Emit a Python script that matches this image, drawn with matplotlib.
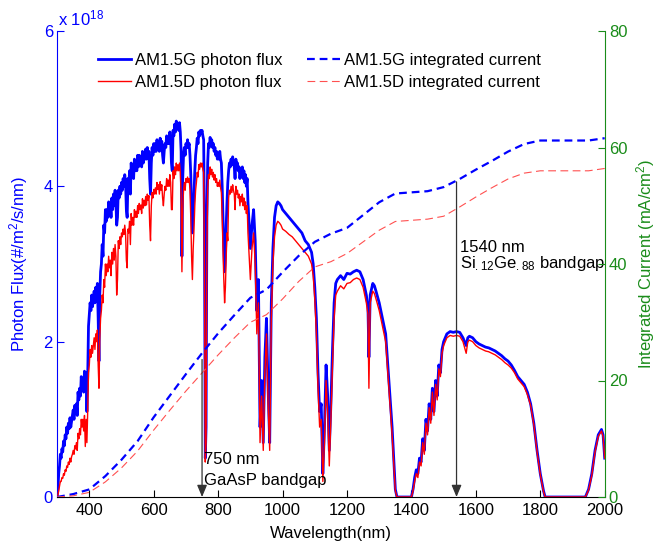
import numpy as np
import matplotlib
matplotlib.use("Agg")
import matplotlib.pyplot as plt

plt.rcParams['font.family'] = ['Liberation Sans', 'DejaVu Sans']
plt.rcParams['font.size'] = 12
plt.rcParams['mathtext.fontset'] = 'custom'
plt.rcParams['mathtext.rm'] = 'Liberation Sans'
plt.rcParams['mathtext.it'] = 'Liberation Sans'

# ---- photon flux (x 1e18 #/m^2/s/nm) ----
# 300-900 nm on a 2.5 nm grid
wl_a = list(np.arange(300, 400.1, 2.5))
g_a = [0.0, 0.1, 0.3, 0.4, 0.55, 0.5, 0.62, 0.58, 0.72, 0.66,
       0.8, 0.75, 0.9, 0.82, 0.95, 0.88, 1.02, 0.9, 0.98, 1.05,
       1.12, 1.0, 1.18, 1.1, 1.2, 1.05, 1.35, 1.25, 1.4, 1.3,
       1.55, 1.4, 1.5, 1.35, 1.62, 1.5, 1.6, 1.1, 1.55, 2.2,
       2.35]
d_a = [0.0, 0.02, 0.08, 0.14, 0.2, 0.2, 0.25, 0.24, 0.3, 0.28,
       0.35, 0.33, 0.4, 0.38, 0.45, 0.42, 0.5, 0.45, 0.52, 0.55,
       0.6, 0.55, 0.66, 0.62, 0.7, 0.6, 0.82, 0.75, 0.88, 0.8,
       1.0, 0.9, 1.0, 0.85, 1.05, 0.65, 1.0, 0.7, 1.1, 1.6,
       1.7]

wl_b = list(np.arange(402.5, 500.1, 2.5))
g_b = [2.5, 2.4, 2.6, 2.45, 2.55, 2.65, 2.5, 2.7, 2.6, 2.75,
       2.3, 1.75, 2.6, 2.9, 3.0, 3.25, 3.1, 3.5, 3.4, 3.7,
       3.55, 3.7, 3.6, 3.8, 3.65, 3.75, 3.6, 3.85, 3.7, 3.9,
       3.75, 3.95, 3.8, 3.5, 3.6, 3.95, 3.85, 4.0, 3.9, 4.05]
d_b = [1.9, 1.8, 1.95, 1.85, 1.95, 2.05, 1.9, 2.1, 2.0, 2.15,
       1.7, 1.4, 2.05, 2.3, 2.4, 2.6, 2.5, 2.8, 2.7, 3.0,
       2.85, 3.0, 2.9, 3.1, 2.95, 3.05, 2.85, 3.15, 3.0, 3.2,
       3.05, 3.25, 3.1, 2.6, 2.8, 3.3, 3.2, 3.35, 3.25, 3.4]

wl_c = list(np.arange(502.5, 600.1, 2.5))
g_c = [3.95, 4.1, 4.0, 4.15, 4.05, 3.7, 3.6, 4.1, 4.0, 4.2,
       3.9, 4.3, 4.15, 4.25, 4.1, 4.35, 4.2, 4.3, 4.2, 4.4,
       4.25, 4.4, 4.3, 4.38, 4.25, 4.45, 4.3, 4.42, 4.35, 4.48,
       4.35, 4.5, 4.4, 4.45, 4.1, 3.9, 4.3, 4.5, 4.4, 4.55]
d_c = [3.35, 3.45, 3.38, 3.5, 3.4, 3.05, 2.95, 3.45, 3.4, 3.55,
       3.25, 3.65, 3.5, 3.6, 3.5, 3.7, 3.6, 3.68, 3.6, 3.75,
       3.65, 3.78, 3.7, 3.76, 3.65, 3.84, 3.72, 3.82, 3.75, 3.87,
       3.76, 3.9, 3.82, 3.88, 3.5, 3.3, 3.75, 3.92, 3.85, 3.96]

wl_d = list(np.arange(602.5, 700.1, 2.5))
g_d = [4.45, 4.55, 4.45, 4.6, 4.5, 4.58, 4.45, 4.62, 4.5, 4.58,
       4.4, 4.3, 4.45, 4.55, 4.5, 4.65, 4.55, 4.62, 4.55, 4.7,
       4.6, 4.3, 4.2, 4.72, 4.65, 4.8, 4.7, 4.84, 4.75, 4.8,
       4.72, 4.82, 4.7, 4.45, 3.1, 4.1, 4.4, 4.5, 4.4, 4.55]
d_d = [3.9, 3.98, 3.9, 4.05, 3.96, 4.02, 3.9, 4.06, 3.95, 4.02,
       3.85, 3.75, 3.9, 4.0, 3.95, 4.1, 4.0, 4.08, 4.0, 4.15,
       4.05, 3.7, 3.7, 4.2, 4.1, 4.25, 4.15, 4.3, 4.2, 4.28,
       4.2, 4.3, 4.18, 3.9, 2.9, 3.7, 3.95, 4.05, 3.95, 4.1]

wl_e = list(np.arange(702.5, 800.1, 2.5))
g_e = [4.5, 4.6, 4.5, 4.55, 4.4, 4.15, 3.7, 3.4, 3.7, 3.9,
       4.2, 4.4, 4.5, 4.62, 4.55, 4.7, 4.65, 4.72, 4.68, 4.72,
       4.65, 4.6, 3.5, 0.5, 0.9, 3.6, 4.3, 4.55, 4.5, 4.63,
       4.55, 4.6, 4.5, 4.55, 4.45, 4.5, 4.4, 4.45, 4.35, 4.4]
d_e = [4.05, 4.12, 4.05, 4.1, 3.95, 3.6, 3.1, 2.8, 3.2, 3.45,
       3.75, 3.95, 4.05, 4.18, 4.12, 4.28, 4.22, 4.3, 4.25, 4.3,
       4.22, 4.18, 3.0, 0.45, 0.7, 3.2, 3.95, 4.15, 4.1, 4.25,
       4.15, 4.22, 4.12, 4.18, 4.08, 4.15, 4.05, 4.1, 4.0, 4.05]

wl_f = list(np.arange(802.5, 900.1, 2.5))
g_f = [4.35, 4.45, 4.35, 4.3, 4.0, 3.6, 3.2, 2.9, 3.1, 3.5,
       3.8, 4.05, 4.2, 4.3, 4.25, 4.35, 4.28, 4.38, 4.3, 4.25,
       4.1, 4.35, 4.25, 4.3, 4.2, 4.25, 4.1, 4.2, 4.15, 4.25,
       4.1, 4.2, 4.05, 4.15, 4.0, 4.1, 3.8, 3.6, 3.4, 3.2]
d_f = [4.0, 4.08, 3.98, 3.92, 3.6, 3.2, 2.8, 2.5, 2.7, 3.1,
       3.4, 3.3, 3.85, 3.95, 3.9, 4.0, 3.92, 4.02, 3.95, 3.9,
       3.7, 4.0, 3.9, 3.95, 3.85, 3.9, 3.75, 3.87, 3.8, 3.9,
       3.75, 3.85, 3.7, 3.8, 3.65, 3.75, 3.4, 3.2, 3.0, 2.8]

# 900-2000 nm
wl_7 = [905, 910, 915, 920, 925, 930, 935, 940, 945, 950, 955, 960, 965, 970, 975, 980, 985, 990, 995, 1000]
g_7 = [3.5, 3.7, 3.3, 2.4, 2.8, 0.9, 1.5, 0.7, 1.8, 2.3, 1.4, 0.7, 2.5, 3.2, 3.6, 3.75, 3.8, 3.78, 3.75, 3.7]
d_7 = [3.2, 3.4, 3.0, 2.1, 2.5, 0.7, 1.3, 0.6, 1.6, 2.1, 1.2, 0.6, 2.3, 3.0, 3.35, 3.5, 3.55, 3.53, 3.5, 3.45]

wl_8 = [1010, 1020, 1030, 1040, 1050, 1060, 1070, 1080, 1090, 1095, 1100]
g_8 = [3.65, 3.6, 3.55, 3.5, 3.45, 3.4, 3.3, 3.25, 3.15, 3.0, 2.7]
d_8 = [3.42, 3.38, 3.35, 3.3, 3.25, 3.2, 3.15, 3.1, 3.0, 2.85, 2.55]

wl_9 = [1105, 1110, 1115, 1120, 1125, 1130, 1135, 1140, 1145, 1150, 1155, 1160, 1165, 1170, 1180, 1190, 1200]
g_9 = [2.3, 1.6, 1.1, 1.2, 0.3, 0.9, 1.7, 1.3, 0.6, 1.2, 1.9, 2.5, 2.75, 2.8, 2.85, 2.8, 2.88]
d_9 = [2.1, 1.4, 0.9, 1.0, 0.2, 0.7, 1.5, 1.1, 0.4, 1.0, 1.7, 2.3, 2.6, 2.65, 2.72, 2.68, 2.75]

wl_10 = [1210, 1220, 1230, 1240, 1250, 1255, 1260, 1265, 1268, 1272, 1280, 1285, 1290, 1300]
g_10 = [2.87, 2.9, 2.92, 2.9, 2.8, 2.7, 2.6, 2.45, 1.8, 2.6, 2.75, 2.72, 2.65, 2.5]
d_10 = [2.76, 2.8, 2.82, 2.8, 2.7, 2.6, 2.5, 2.35, 1.4, 2.5, 2.65, 2.62, 2.55, 2.4]

wl_11 = [1310, 1320, 1325, 1330, 1335, 1340, 1345, 1350, 1355, 1400]
g_11 = [2.3, 2.1, 1.8, 1.5, 1.2, 0.9, 0.5, 0.1, 0.0, 0.0]
d_11 = [2.2, 2.0, 1.7, 1.4, 1.1, 0.8, 0.45, 0.08, 0.0, 0.0]

wl_12 = [1405, 1410, 1415, 1420, 1425, 1430, 1435, 1440, 1445, 1450, 1455, 1460, 1465, 1470, 1475, 1480, 1485, 1490, 1495, 1500]
g_12 = [0.1, 0.25, 0.35, 0.3, 0.5, 0.45, 0.75, 0.6, 1.0, 0.85, 1.2, 1.0, 1.4, 1.1, 1.5, 1.3, 1.7, 1.6, 1.9, 2.0]
d_12 = [0.08, 0.2, 0.3, 0.25, 0.45, 0.4, 0.7, 0.55, 0.95, 0.8, 1.15, 0.95, 1.35, 1.05, 1.45, 1.25, 1.65, 1.55, 1.85, 1.95]

wl_13 = [1510, 1520, 1530, 1540, 1550, 1560, 1570, 1575, 1580, 1590, 1600, 1610, 1620, 1630, 1640, 1650, 1660, 1670, 1680, 1690, 1700]
g_13 = [2.1, 2.13, 2.12, 2.13, 2.12, 2.05, 1.95, 2.05, 2.07, 2.05, 2.0, 1.97, 1.95, 1.93, 1.92, 1.9, 1.88, 1.85, 1.82, 1.78, 1.75]
d_13 = [2.05, 2.08, 2.07, 2.08, 2.07, 2.0, 1.85, 2.0, 2.02, 2.0, 1.95, 1.92, 1.9, 1.88, 1.87, 1.85, 1.83, 1.8, 1.77, 1.73, 1.7]

wl_14 = [1710, 1720, 1730, 1740, 1750, 1760, 1770, 1780, 1790, 1800, 1810, 1815, 1940, 1950, 1960, 1970, 1980, 1990, 1995, 2000]
g_14 = [1.7, 1.63, 1.55, 1.5, 1.45, 1.35, 1.2, 0.95, 0.6, 0.3, 0.08, 0.0, 0.0, 0.1, 0.3, 0.6, 0.8, 0.87, 0.8, 0.5]
d_14 = [1.66, 1.6, 1.52, 1.47, 1.42, 1.32, 1.18, 0.93, 0.58, 0.29, 0.07, 0.0, 0.0, 0.09, 0.28, 0.58, 0.78, 0.85, 0.78, 0.5]

# ---- integrated current (mA/cm^2) ----
wl_int = [300, 350, 400, 450, 500, 550, 600, 650, 700, 750, 800, 850, 900, 950, 1000, 1050, 1100, 1150,
          1200, 1250, 1300, 1350, 1400, 1450, 1500, 1550, 1600, 1650, 1700, 1750, 1800, 1850, 1900, 1950, 2000]
j_g = [0.0, 0.5, 1.3, 3.6, 6.4, 9.6, 13.7, 17.4, 21.1, 24.7, 28.1, 31.2, 34.2, 35.6, 38.6, 41.4, 43.8, 45.2,
       46.2, 48.4, 50.6, 52.1, 52.3, 52.5, 53.2, 54.6, 56.2, 57.7, 59.3, 60.6, 61.2, 61.2, 61.2, 61.2, 61.6]
j_d = [0.0, 0.2, 0.8, 2.6, 5.0, 7.9, 11.5, 14.9, 18.2, 21.3, 24.4, 27.3, 30.0, 31.3, 34.0, 37.0, 39.5, 40.4,
       41.8, 43.8, 45.8, 47.3, 47.5, 47.7, 48.2, 49.8, 51.5, 53.1, 54.6, 55.6, 56.0, 56.0, 56.0, 56.0, 56.4]

wl = wl_a + wl_b + wl_c + wl_d + wl_e + wl_f + wl_7 + wl_8 + wl_9 + wl_10 + wl_11 + wl_12 + wl_13 + wl_14
flux_g = g_a + g_b + g_c + g_d + g_e + g_f + g_7 + g_8 + g_9 + g_10 + g_11 + g_12 + g_13 + g_14
flux_d = d_a + d_b + d_c + d_d + d_e + d_f + d_7 + d_8 + d_9 + d_10 + d_11 + d_12 + d_13 + d_14

labels = ['AM1.5G photon flux', 'AM1.5D photon flux',
          'AM1.5G integrated current', 'AM1.5D integrated current']

BLUE = '#0000ff'
RED = '#ff0000'
GREEN = '#1a8c1a'

fig = plt.figure(figsize=(6.57, 5.43), dpi=100)
ax = fig.add_axes([57.1 / 657, 1 - 497 / 543, (604.7 - 57.1) / 657, (497 - 31) / 543])
ax2 = ax.twinx()

h1, = ax.plot(wl, flux_g, color=BLUE, lw=2.0, zorder=2)
h2, = ax.plot(wl, flux_d, color=RED, lw=1.0, zorder=3)
h3, = ax2.plot(wl_int, j_g, color=BLUE, lw=1.6, dashes=(3.5, 2.2))
h4, = ax2.plot(wl_int, j_d, color='#ff5050', lw=0.8, dashes=(7, 4))

ax.set_xlim(300, 2000)
ax.set_ylim(0, 6)
ax2.set_ylim(0, 80)
ax.set_xticks(range(400, 2001, 200))
ax.set_yticks([0, 2, 4, 6])
ax2.set_yticks([0, 20, 40, 60, 80])

for s in ['top', 'right']:
    ax.spines[s].set_visible(False)
for s in ['top', 'left', 'bottom']:
    ax2.spines[s].set_visible(False)
ax.spines['left'].set_color(BLUE)
ax.spines['bottom'].set_color('black')
ax2.spines['right'].set_color(GREEN)

ax.tick_params(axis='x', direction='in', length=5, colors='black', labelsize=12, top=False, pad=4)
ax.tick_params(axis='y', direction='in', length=5, colors=BLUE, labelsize=12, right=False, pad=3)
ax2.tick_params(axis='y', direction='in', length=5, colors=GREEN, labelsize=12, pad=3)

ax.set_xlabel('Wavelength(nm)', fontsize=12, labelpad=6)
ax.set_ylabel('Photon Flux(#/m$^2$/s/nm)', color=BLUE, fontsize=12, labelpad=10)
ax2.set_ylabel('Integrated Current (mA/cm$^2$)', color=GREEN, fontsize=12, labelpad=5)

fig.text(58 / 657, 1 - 25 / 543, 'x 10$^{18}$', color=BLUE, fontsize=12, ha='left', va='baseline')

# annotations
arrow = dict(arrowstyle='-|>,head_length=0.6,head_width=0.25', color='#333333', lw=0.9,
             shrinkA=0, shrinkB=0)
ax2.annotate('', xy=(750, 0), xytext=(750, 23.6), arrowprops=arrow)
ax.text(757, 0.43, '750 nm', fontsize=12, ha='left', va='baseline')
ax.text(757, 0.16, 'GaAsP bandgap', fontsize=12, ha='left', va='baseline')

ax2.annotate('', xy=(1540, 0), xytext=(1540, 54.1), arrowprops=arrow)
ax.text(1550, 3.16, '1540 nm', fontsize=12, ha='left', va='baseline')
ax.text(1550, 2.95, 'Si$_{.12}$Ge$_{.88}$ bandgap', fontsize=12, ha='left', va='baseline')

leg = ax2.legend([h1, h2, h3, h4], labels, ncol=2, frameon=False, loc='upper left',
                 bbox_to_anchor=(98 / 657, 1 - 53 / 543), bbox_transform=fig.transFigure,
                 fontsize=12, handlelength=2.0, handletextpad=0.2, columnspacing=1.5,
                 labelspacing=0.42, borderpad=0, borderaxespad=0)

fig.savefig('out.png', dpi=100)
